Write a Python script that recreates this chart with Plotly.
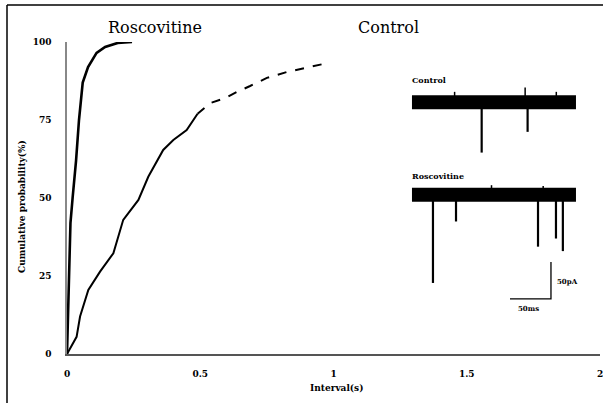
import plotly.graph_objects as go

W, H = 603, 403

# ---- main data: cumulative probability of inter-event intervals ----
rosco_x = [0, 0.004, 0.008, 0.013, 0.021, 0.034, 0.045, 0.059, 0.079, 0.111, 0.143, 0.19, 0.244]
rosco_y = [0, 15, 30, 42, 50, 62, 75, 87, 92, 96.5, 98.4, 99.7, 100]

control_x = [0, 0.036, 0.049, 0.08, 0.124, 0.174, 0.211, 0.268, 0.305, 0.361, 0.399, 0.449, 0.49]
control_y = [0, 5.5, 12, 20.5, 26.4, 32.3, 43, 49.4, 56.8, 65.4, 68.6, 71.8, 77]
control_tail_x = [0.49, 0.537, 0.593, 0.638, 0.687, 0.75, 0.826, 0.98]
control_tail_y = [77, 80.4, 82, 84, 85.9, 88.5, 90.4, 93.3]

x_ticks = [0, 0.5, 1, 1.5, 2]
x_tick_labels = ["0", "0.5", "1", "1.5", "2"]
y_ticks = [0, 25, 50, 75, 100]
y_tick_labels = ["0", "25", "50", "75", "100"]

# ---- inset traces (ms, pA) ----
trace_duration_ms = 200
control_spike_t = [85, 141]
control_spike_amp = [68, 40]
control_up_t = [52, 138, 176]
control_up_amp = [14, 20, 14]
rosco_spike_t = [25.6, 53.7, 153.7, 175.6, 184]
rosco_spike_amp = [119, 36, 70, 59, 76]
rosco_up_t = [97, 160]
rosco_up_amp = [13, 12]
scale_ms = 50
scale_pA = 50

CONTROL_BASE = 294
ROSCO_BASE = 169

serif = "DejaVu Serif"

fig = go.Figure()

fig.add_trace(go.Scatter(x=rosco_x, y=rosco_y, mode="lines",
                         line=dict(color="black", width=2.6), showlegend=False))
fig.add_trace(go.Scatter(x=control_x, y=control_y, mode="lines",
                         line=dict(color="black", width=2), showlegend=False))
fig.add_trace(go.Scatter(x=control_tail_x, y=control_tail_y, mode="lines",
                         line=dict(color="black", width=2, dash="dash"), showlegend=False))

def spikes(ts, amps, base, sign=-1):
    xs, ys = [], []
    for t, a in zip(ts, amps):
        xs += [t, t, None]
        ys += [base, base + sign * a, None]
    return xs, ys

for base, ts, amps, uts, uamps in [
        (CONTROL_BASE, control_spike_t, control_spike_amp, control_up_t, control_up_amp),
        (ROSCO_BASE, rosco_spike_t, rosco_spike_amp, rosco_up_t, rosco_up_amp)]:
    fig.add_trace(go.Scatter(x=[0, trace_duration_ms], y=[base, base], mode="lines",
                             line=dict(color="black", width=14),
                             xaxis="x2", yaxis="y2", showlegend=False))
    sx, sy = spikes(ts, amps, base)
    fig.add_trace(go.Scatter(x=sx, y=sy, mode="lines",
                             line=dict(color="black", width=2.2),
                             xaxis="x2", yaxis="y2", showlegend=False))
    ux, uy = spikes(uts, uamps, base, sign=1)
    fig.add_trace(go.Scatter(x=ux, y=uy, mode="lines",
                             line=dict(color="black", width=1.5),
                             xaxis="x2", yaxis="y2", showlegend=False))

# scale bar
sb_x0 = 169.5
sb_y0 = 28.4
fig.add_trace(go.Scatter(x=[sb_x0 - scale_ms, sb_x0, sb_x0],
                         y=[sb_y0, sb_y0, sb_y0 + scale_pA], mode="lines",
                         line=dict(color="black", width=1.3),
                         xaxis="x2", yaxis="y2", showlegend=False))

bold = lambda labels: ["<b>%s</b>" % s for s in labels]

def ann(text, px, py, size, bold_=True, xanchor="center", angle=0):
    return dict(text=("<b>%s</b>" % text) if bold_ else text, x=px / W, y=1 - py / H,
                xref="paper", yref="paper", xanchor=xanchor, yanchor="middle",
                showarrow=False, textangle=angle, font=dict(size=size, family=serif, color="black"))

fig.update_layout(
    template="none",
    width=W, height=H,
    margin=dict(l=0, r=0, t=0, b=0),
    paper_bgcolor="white", plot_bgcolor="rgba(0,0,0,0)",
    font=dict(family=serif, color="black"),
    xaxis=dict(domain=[67 / W, 600 / W], range=[0, 2], tickvals=x_ticks, ticktext=bold(x_tick_labels),
               showgrid=False, zeroline=False, showline=True, linecolor="#555", linewidth=2,
               ticks="", ticklabelstandoff=10, automargin=False, ticklabeloverflow="allow",
               tickfont=dict(size=9, family=serif, color="black")),
    yaxis=dict(domain=[(H - 354) / H, (H - 42) / H], range=[0, 100], tickvals=y_ticks,
               ticktext=bold(y_tick_labels), showgrid=False, zeroline=False, showline=True,
               linecolor="#888", linewidth=1.5, ticks="", ticklabelstandoff=12, automargin=False,
               tickfont=dict(size=9, family=serif, color="black")),
    xaxis2=dict(domain=[405 / W, 590 / W], range=[-8.5, 217.1], visible=False, anchor="y2",
                automargin=False),
    yaxis2=dict(domain=[(H - 320) / H, (H - 60) / H], range=[0, 351], visible=False, anchor="x2",
                automargin=False),
    shapes=[
        dict(type="line", xref="paper", yref="paper", x0=7 / W, x1=1, y0=1 - 5 / H, y1=1 - 5 / H,
             line=dict(color="black", width=1.5)),
        dict(type="line", xref="paper", yref="paper", x0=7 / W, x1=7 / W, y0=0, y1=1 - 5 / H,
             line=dict(color="black", width=1.5)),
    ],
    annotations=[
        ann("Roscovitine", 155, 28, 16, bold_=False),
        ann("Control", 389, 28, 16, bold_=False),
        ann("Cumulative probability(%)", 22, 207, 9, angle=-90),
        ann("Interval(s)", 336, 388, 9),
        ann("Control", 410, 80, 8, xanchor="left"),
        ann("Roscovitine", 410, 176, 8, xanchor="left"),
        ann("50pA", 555, 281, 7, xanchor="left"),
        ann("50ms", 528, 308, 7),
    ],
)

fig.write_html("out.html", config={"displayModeBar": False},
               post_script="document.body.style.margin='0';")
